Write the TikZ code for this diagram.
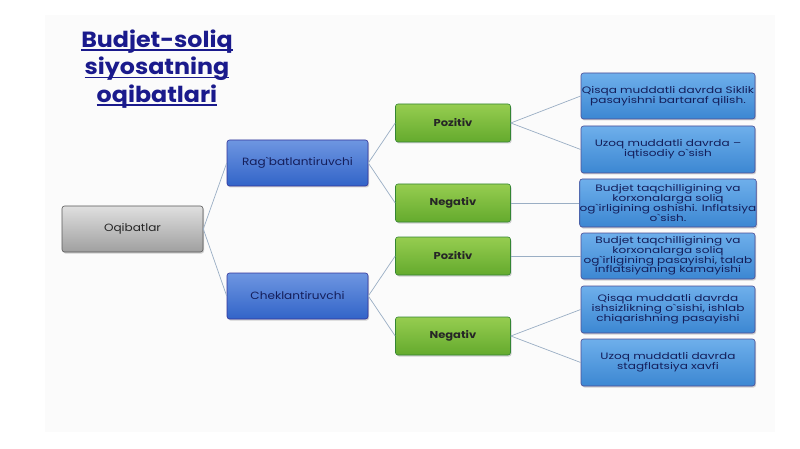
\documentclass[tikz,border=0pt]{standalone}
\usepackage{fontspec}
\setmainfont{Poppins}
\newfontfamily\titlefont[FakeStretch=1.08]{Poppins}
\newfontfamily\boxfont[FakeStretch=1.15]{Poppins}
\newfontfamily\leaffont[FakeStretch=1.3]{Poppins}
\usetikzlibrary{shadows}
\definecolor{titleblue}{HTML}{1A1A8C}
\definecolor{linec}{HTML}{9AAEC4}
\newcommand\myul[1]{\setbox0\hbox{#1}\rlap{\rule[-3.2pt]{\wd0}{1.3pt}}\box0}
\tikzset{
  box/.style={rounded corners=2.5pt, draw=#1!70!black, line width=0.6pt, align=center,
    inner sep=0pt, drop shadow={shadow xshift=1pt, shadow yshift=-1.5pt, opacity=0.35}},
  graybox/.style={box=gray, top color=gray!25, bottom color=gray!75, minimum width=141pt, minimum height=46pt,
    font=\boxfont\fontsize{10.5}{11}\selectfont, text=black!85},
  bluebox/.style={box=blue, draw=blue!50!black!80, top color={rgb,255:red,110;green,150;blue,225}, bottom color={rgb,255:red,50;green,100;blue,200},
    minimum width=141pt, minimum height=46pt, font=\boxfont\fontsize{10.5}{11}\selectfont, text={rgb,255:red,20;green,30;blue,90}},
  greenbox/.style={box=green, draw=green!40!black!80, top color={rgb,255:red,150;green,205;blue,80}, bottom color={rgb,255:red,100;green,170;blue,45},
    minimum width=115pt, minimum height=38pt, font=\boxfont\fontsize{10}{11}\selectfont\bfseries, text=black!85},
  leafbox/.style={box=blue, draw=blue!40!black!70, top color={rgb,255:red,110;green,175;blue,235}, bottom color={rgb,255:red,60;green,135;blue,210},
    minimum width=174pt, font=\leaffont\fontsize{9.3}{9.8}\selectfont, text={rgb,255:red,20;green,30;blue,90}},
  conn/.style={draw=linec, line width=0.7pt},
}
\begin{document}
\begin{tikzpicture}[x=1pt,y=-1pt]
\useasboundingbox (0,0) rectangle (800,449);
\fill[white] (0,0) rectangle (800,449);
\fill[gray!3] (45,15) rectangle (775,432);
\node[text=titleblue, font=\titlefont\fontsize{22}{27.5}\selectfont\bfseries, align=center] (title) at (157,69)
  {\myul{Budjet-soliq}\\\myul{siyosatning}\\\myul{oqibatlari}};
\node[graybox] (oq) at (132.5,229) {Oqibatlar};
\node[bluebox] (rag) at (297.5,163) {Rag`batlantiruvchi};
\node[bluebox] (chek) at (297.5,296) {Cheklantiruvchi};
\node[greenbox] (p1) at (453,123) {Pozitiv};
\node[greenbox] (n1) at (453,203) {Negativ};
\node[greenbox] (p2) at (453,256) {Pozitiv};
\node[greenbox] (n2) at (453,336) {Negativ};
\node[leafbox, minimum height=46pt] (l1) at (668,96) {Qisqa muddatli davrda Siklik\\pasayishni bartaraf qilish.};
\node[leafbox, minimum height=47pt] (l2) at (668,149.5) {Uzoq muddatli davrda –\\iqtisodiy o`sish};
\node[leafbox, minimum height=48pt] (l3) at (668,203) {Budjet taqchilligining va\\korxonalarga soliq\\og`irligining oshishi. Inflatsiya\\o`sish.};
\node[leafbox, minimum height=46pt] (l4) at (668,256) {Budjet taqchilligining va\\korxonalarga soliq\\og`irligining pasayishi, talab\\inflatsiyaning kamayishi};
\node[leafbox, minimum height=47pt] (l5) at (668,309.5) {Qisqa muddatli davrda\\ishsizlikning o`sishi, ishlab\\chiqarishning pasayishi};
\node[leafbox, minimum height=47pt] (l6) at (668,362.5) {Uzoq muddatli davrda\\stagflatsiya xavfi};
\draw[conn] (oq.east) -- (rag.west);
\draw[conn] (oq.east) -- (chek.west);
\draw[conn] (rag.east) -- (p1.west);
\draw[conn] (rag.east) -- (n1.west);
\draw[conn] (chek.east) -- (p2.west);
\draw[conn] (chek.east) -- (n2.west);
\draw[conn] (p1.east) -- (l1.west);
\draw[conn] (p1.east) -- (l2.west);
\draw[conn] (n1.east) -- (l3.west);
\draw[conn] (p2.east) -- (l4.west);
\draw[conn] (n2.east) -- (l5.west);
\draw[conn] (n2.east) -- (l6.west);
\end{tikzpicture}
\end{document}
